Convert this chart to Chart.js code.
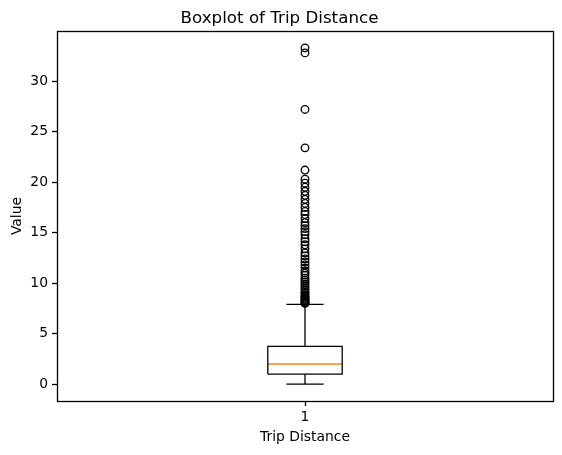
<!DOCTYPE html>
<html>
<head>
<meta charset="utf-8">
<script src="https://cdn.jsdelivr.net/npm/chart.js@4"></script>
<style>
  html, body { margin: 0; padding: 0; background: #fff; }
  #wrap { width: 562px; height: 455px; }
</style>
</head>
<body>
<div id="wrap"><canvas id="box-canvas" width="562" height="455"></canvas></div>
<script>
// Boxplot of trip distance, drawn as plain scatter/line datasets on linear axes.

const CATEGORIES = ['1'];
const BOX_STATS = [1.0, 2.0, 3.75];         // q1, median, q3
const WHISKERS = [0, 7.9];                  // low, high
const OUTLIERS = [
  8.0, 8.05, 8.1, 8.2, 8.3, 8.4, 8.5, 8.6, 8.7, 8.8, 9.0, 9.1, 9.3, 9.5, 9.7, 9.9,
  10.1, 10.3, 10.5, 10.8, 11.0, 11.2, 11.5, 11.8, 12.1, 12.4, 12.7, 13.0, 13.4,
  13.8, 14.1, 14.4, 14.8, 15.1, 15.4, 15.7, 16.0, 16.4, 16.8, 17.1, 17.5, 17.9,
  18.3, 18.7, 19.1, 19.5, 19.9, 20.3, 21.2, 23.4, 27.2, 32.8, 33.3
];
const Y_TICKS = [0, 5, 10, 15, 20, 25, 30];

const FONT = 'DejaVu Sans';
const ORANGE = '#ff7f0e';
const LW = 1.3;

// box geometry in x units (matplotlib defaults: box 0.15 wide, caps half of that)
const pos = 1;
const half = 0.075;
const capHalf = 0.0375;
const [q1, med, q3] = BOX_STATS;
const [wLo, wHi] = WHISKERS;

const allVals = [wLo, wHi, ...OUTLIERS];
const dMin = Math.min(...allVals);
const dMax = Math.max(...allVals);
const pad = 0.05 * (dMax - dMin);

function seg(data, color) {
  return {
    type: 'line',
    data,
    borderColor: color || '#000',
    borderWidth: LW,
    pointRadius: 0,
    fill: false,
    showLine: true,
    tension: 0,
  };
}

const datasets = [
  seg([{ x: pos - half, y: q1 }, { x: pos + half, y: q1 }, { x: pos + half, y: q3 },
       { x: pos - half, y: q3 }, { x: pos - half, y: q1 }]),
  seg([{ x: pos, y: q1 }, { x: pos, y: wLo }]),
  seg([{ x: pos, y: q3 }, { x: pos, y: wHi }]),
  seg([{ x: pos - capHalf, y: wLo }, { x: pos + capHalf, y: wLo }]),
  seg([{ x: pos - capHalf, y: wHi }, { x: pos + capHalf, y: wHi }]),
  seg([{ x: pos - half, y: med }, { x: pos + half, y: med }], ORANGE),
  {
    type: 'scatter',
    data: OUTLIERS.map((v) => ({ x: pos, y: v })),
    pointStyle: 'circle',
    pointRadius: 3.8,
    borderColor: '#000',
    backgroundColor: 'rgba(0,0,0,0)',
    borderWidth: LW,
  },
];

// full frame round the plot area, like matplotlib spines
const frame = {
  id: 'frame',
  afterDatasetsDraw(chart) {
    const { ctx, chartArea: a } = chart;
    ctx.save();
    ctx.strokeStyle = '#000';
    ctx.lineWidth = LW;
    ctx.strokeRect(Math.round(a.left) + 0.5, Math.round(a.top) + 0.5,
      Math.round(a.right - a.left), Math.round(a.bottom - a.top));
    ctx.restore();
  },
};

new Chart(document.getElementById('box-canvas'), {
  type: 'scatter',
  data: { datasets },
  plugins: [frame],
  options: {
    responsive: false,
    animation: false,
    layout: { padding: { left: 6, right: 9, top: 0, bottom: 8 } },
    plugins: {
      legend: { display: false },
      tooltip: { enabled: false },
      title: {
        display: true,
        text: 'Boxplot of Trip Distance',
        color: '#000',
        font: { family: FONT, size: 16.7, weight: 'normal' },
        padding: { top: 9, bottom: 2 },
      },
    },
    scales: {
      x: {
        type: 'linear',
        min: 0.5,
        max: 1.5,
        afterBuildTicks(axis) { axis.ticks = [{ value: pos }]; },
        afterFit(axis) { axis.height = 46; },
        ticks: {
          color: '#000',
          padding: 3,
          font: { family: FONT, size: 13.9 },
          callback: () => CATEGORIES[0],
        },
        grid: { drawOnChartArea: false, drawTicks: true, tickLength: 5, color: '#000', tickWidth: LW },
        border: { display: false },
        title: {
          display: true,
          text: 'Trip Distance',
          color: '#000',
          font: { family: FONT, size: 13.9 },
          padding: { top: 2, bottom: 1 },
        },
      },
      y: {
        type: 'linear',
        min: dMin - pad,
        max: dMax + pad,
        afterBuildTicks(axis) { axis.ticks = Y_TICKS.map((v) => ({ value: v })); },
        afterFit(axis) { axis.width = 51; },
        ticks: {
          color: '#000',
          padding: 4,
          font: { family: FONT, size: 13.9 },
        },
        grid: { drawOnChartArea: false, drawTicks: true, tickLength: 5, color: '#000', tickWidth: LW },
        border: { display: false },
        title: {
          display: true,
          text: 'Value',
          color: '#000',
          font: { family: FONT, size: 13.9 },
          padding: { top: 3, bottom: 3 },
        },
      },
    },
  },
});
</script>
</body>
</html>
